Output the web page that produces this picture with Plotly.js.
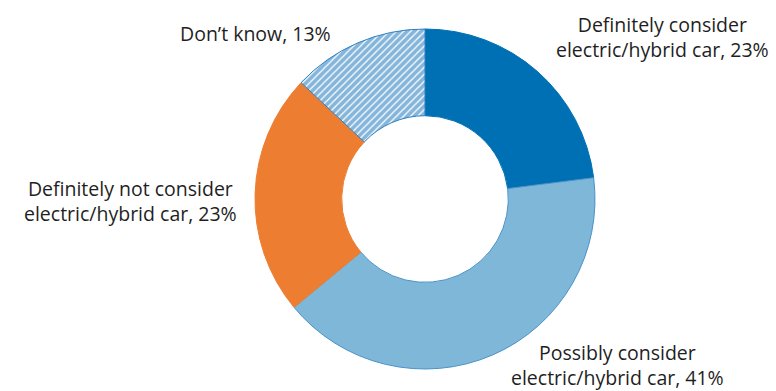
<!DOCTYPE html>
<html>
<head>
<meta charset="utf-8">
<script src="https://cdn.plot.ly/plotly-3.0.1.min.js"></script>
<style>html,body{margin:0;padding:0;background:#fff;}#chart{width:776px;height:391px;}</style>
</head>
<body>
<div id="chart"></div>
<script>
const categories = ["Definitely consider electric/hybrid car", "Possibly consider electric/hybrid car", "Definitely not consider electric/hybrid car", "Don\u2019t know"];
const values = [23, 41, 23, 13];
const labelTexts = ["Definitely consider<br>electric/hybrid car, 23%", "Possibly consider<br>electric/hybrid car, 41%", "Definitely not consider<br>electric/hybrid car, 23%", "Don\u2019t know, 13%"];
const colors = ["#0070b5", "#7fb7d9", "#ed7d31", "#ffffff"];
const lineColors = ["#0070b5", "#4a92c9", "#ed7d31", "#2f7fbf"];

const trace = {
  type: "pie",
  labels: categories,
  values: values,
  hole: 0.49,
  sort: false,
  direction: "clockwise",
  rotation: 0,
  textinfo: "none",
  hoverinfo: "label+percent",
  showlegend: false,
  domain: {x: [255/776, 595/776], y: [22/391, 362/391]},
  marker: {
    colors: colors,
    line: {color: lineColors, width: 1},
    pattern: {
      shape: ["", "", "", "/"],
      fgcolor: ["#0070b5", "#0070b5", "#0070b5", "#0a6cb5"],
      bgcolor: colors,
      size: 5,
      solidity: 0.75,
      fillmode: "overlay"
    }
  }
};

const font = {family: "Open Sans, Liberation Sans, sans-serif", size: 19.5, color: "#1f1f1f"};
const annPos = [[662, 37], [617, 365], [130, 201], [255, 34]];
const annotations = labelTexts.map((t, i) => ({
  text: t, xref: "paper", yref: "paper",
  x: annPos[i][0] / 776, y: 1 - annPos[i][1] / 391,
  xanchor: "center", yanchor: "middle", showarrow: false,
  align: "center", font: font
}));

Plotly.newPlot("chart", [trace], {
  width: 776, height: 391,
  margin: {l: 0, r: 0, t: 0, b: 0},
  paper_bgcolor: "#ffffff",
  annotations: annotations
}, {displayModeBar: false, staticPlot: true});
</script>
</body>
</html>
